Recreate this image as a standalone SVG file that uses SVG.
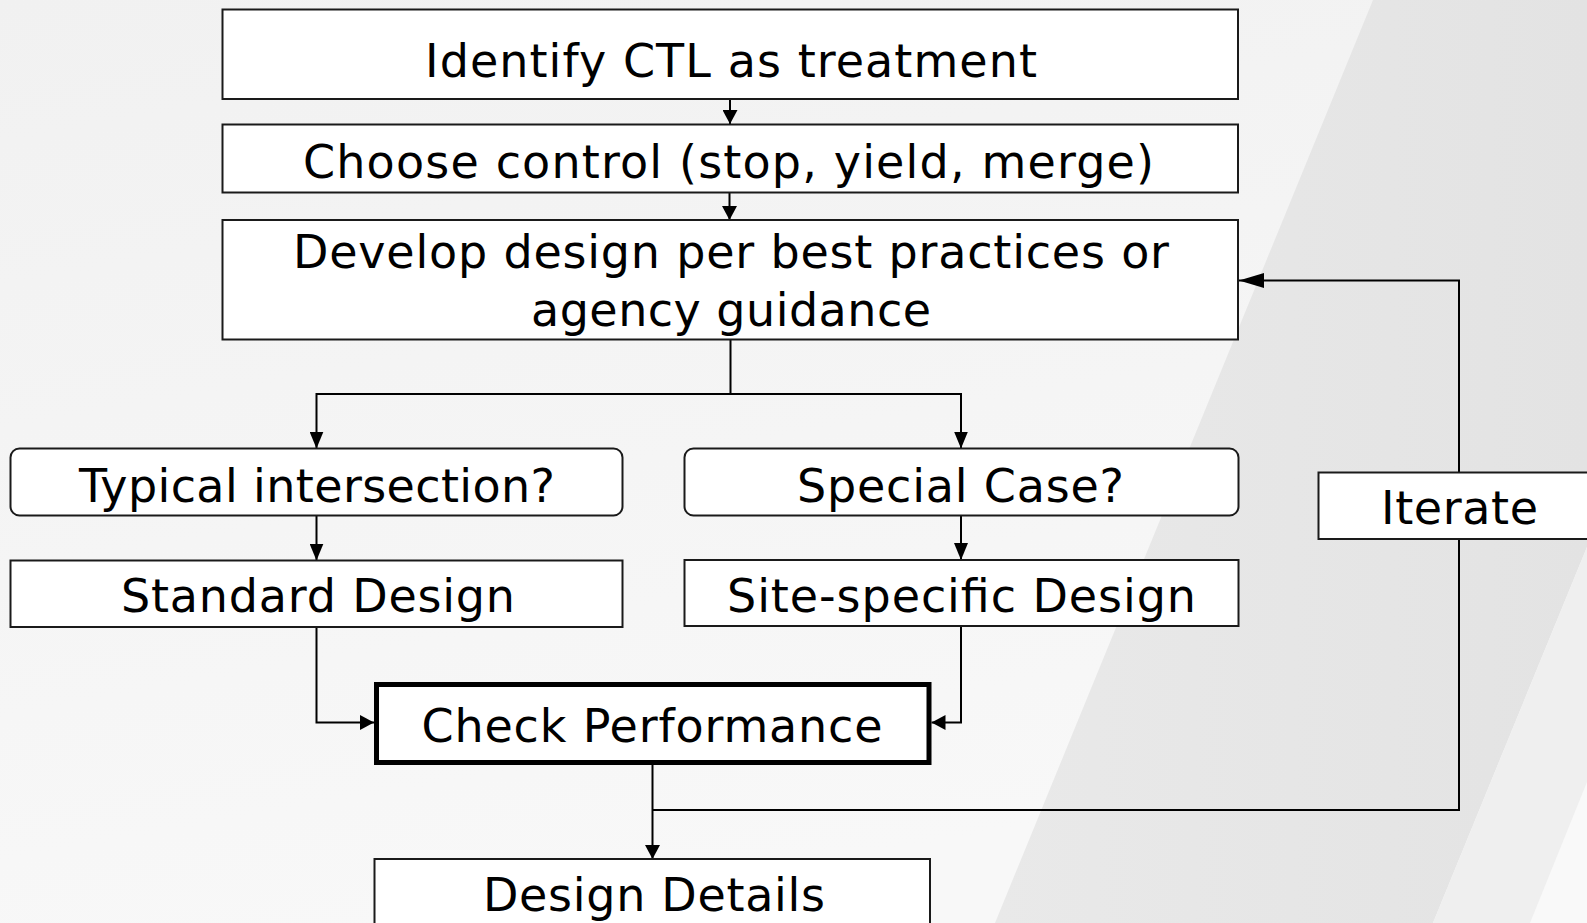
<svg xmlns="http://www.w3.org/2000/svg" width="1587" height="923" viewBox="0 0 1587 923">
<defs>
<linearGradient id="bgL" x1="0" y1="0" x2="0.3" y2="1">
<stop offset="0" stop-color="#f1f1f1"/>
<stop offset="1" stop-color="#f8f8f8"/>
</linearGradient>
<linearGradient id="bgD" x1="0" y1="0" x2="1" y2="0">
<stop offset="0" stop-color="#e9e9e9"/>
<stop offset="1" stop-color="#e3e3e3"/>
</linearGradient>
<marker id="ah" viewBox="0 0 10 10" refX="10" refY="5" markerUnits="userSpaceOnUse" markerWidth="17" markerHeight="14" orient="auto" preserveAspectRatio="none">
<path d="M0,0 L10,5 L0,10 z" fill="#000"/>
</marker>
<marker id="ahS" viewBox="0 0 10 10" refX="10" refY="5" markerUnits="userSpaceOnUse" markerWidth="14" markerHeight="15" orient="auto" preserveAspectRatio="none">
<path d="M0,0 L10,5 L0,10 z" fill="#000"/>
</marker>
<marker id="ahL" viewBox="0 0 10 10" refX="10" refY="5" markerUnits="userSpaceOnUse" markerWidth="25" markerHeight="15" orient="auto" preserveAspectRatio="none">
<path d="M0,0 L10,5 L0,10 z" fill="#000"/>
</marker>
</defs>
<style>
.box{fill:#fff;stroke:#1a1a1a;stroke-width:2}
.thick{fill:#fff;stroke:#000;stroke-width:5}
.lbl{font-family:"DejaVu Sans","Verdana",sans-serif;font-size:46px;fill:#000}
.con{fill:none;stroke:#000;stroke-width:2}
</style>
<g id="background">
<rect x="0" y="0" width="1587" height="923" fill="url(#bgL)"/>
<polygon points="1373,0 1587,0 1587,547 1433,923 995,923" fill="url(#bgD)"/>
<polygon points="1587,547 1587,923 1433,923" fill="#efefef"/>
<polygon points="1587,782 1587,923 1530,923" fill="#f9f9f9"/>
</g>
<g id="connectors">
<path class="con" d="M730,99.5 V124" marker-end="url(#ahS)"/>
<path class="con" d="M729.5,193 V220" marker-end="url(#ahS)"/>
<path class="con" d="M730.5,340 V394 H316.5 V448.5" marker-end="url(#ah)"/>
<path class="con" d="M730.5,394 H961 V448.5" marker-end="url(#ah)"/>
<path class="con" d="M316.5,516 V560.5" marker-end="url(#ah)"/>
<path class="con" d="M961,516 V560" marker-end="url(#ah)"/>
<path class="con" d="M316.5,627 V722.5 H374" marker-end="url(#ahS)"/>
<path class="con" d="M961,626 V722.5 H931.5" marker-end="url(#ahS)"/>
<path class="con" d="M652.5,765 V859" marker-end="url(#ahS)"/>
<path class="con" d="M652.5,810 H1459 V280.5 H1239" marker-end="url(#ahL)"/>
</g>
<g id="n1">
<rect class="box" x="222.5" y="9.5" width="1015.5" height="89.5"/>
<text class="lbl" x="425" y="77" textLength="612" lengthAdjust="spacing">Identify CTL as treatment</text>
</g>
<g id="n2">
<rect class="box" x="222.5" y="124.5" width="1015.5" height="68"/>
<text class="lbl" x="303" y="178" textLength="851" lengthAdjust="spacing">Choose control (stop, yield, merge)</text>
</g>
<g id="n3">
<rect class="box" x="222.5" y="220" width="1015.5" height="119.5"/>
<text class="lbl" x="293" y="268" textLength="876" lengthAdjust="spacing">Develop design per best practices or</text>
<text class="lbl" x="531" y="326" textLength="400" lengthAdjust="spacing">agency guidance</text>
</g>
<g id="n4">
<rect class="box" x="10.5" y="448.5" width="612" height="67" rx="9"/>
<text class="lbl" x="79" y="502" textLength="476" lengthAdjust="spacing">Typical intersection?</text>
</g>
<g id="n5">
<rect class="box" x="684.5" y="448.5" width="554" height="67" rx="9"/>
<text class="lbl" x="797" y="502" textLength="327" lengthAdjust="spacing">Special Case?</text>
</g>
<g id="n6">
<rect class="box" x="10.5" y="560.5" width="612" height="66.5"/>
<text class="lbl" x="121" y="612" textLength="394" lengthAdjust="spacing">Standard Design</text>
</g>
<g id="n7">
<rect class="box" x="684.5" y="560" width="554" height="66"/>
<text class="lbl" x="727" y="612" textLength="469" lengthAdjust="spacing">Site-specific Design</text>
</g>
<g id="n8">
<rect class="thick" x="376.5" y="684.5" width="552.5" height="78"/>
<text class="lbl" x="421.5" y="742" textLength="461" lengthAdjust="spacing">Check Performance</text>
</g>
<g id="n9">
<rect class="box" x="374.5" y="859" width="555.5" height="80"/>
<text class="lbl" x="483" y="911" textLength="342" lengthAdjust="spacing">Design Details</text>
</g>
<g id="n10">
<rect class="box" x="1318.5" y="472.5" width="290" height="66.5"/>
<text class="lbl" x="1381" y="524" textLength="157" lengthAdjust="spacing">Iterate</text>
</g>
</svg>
